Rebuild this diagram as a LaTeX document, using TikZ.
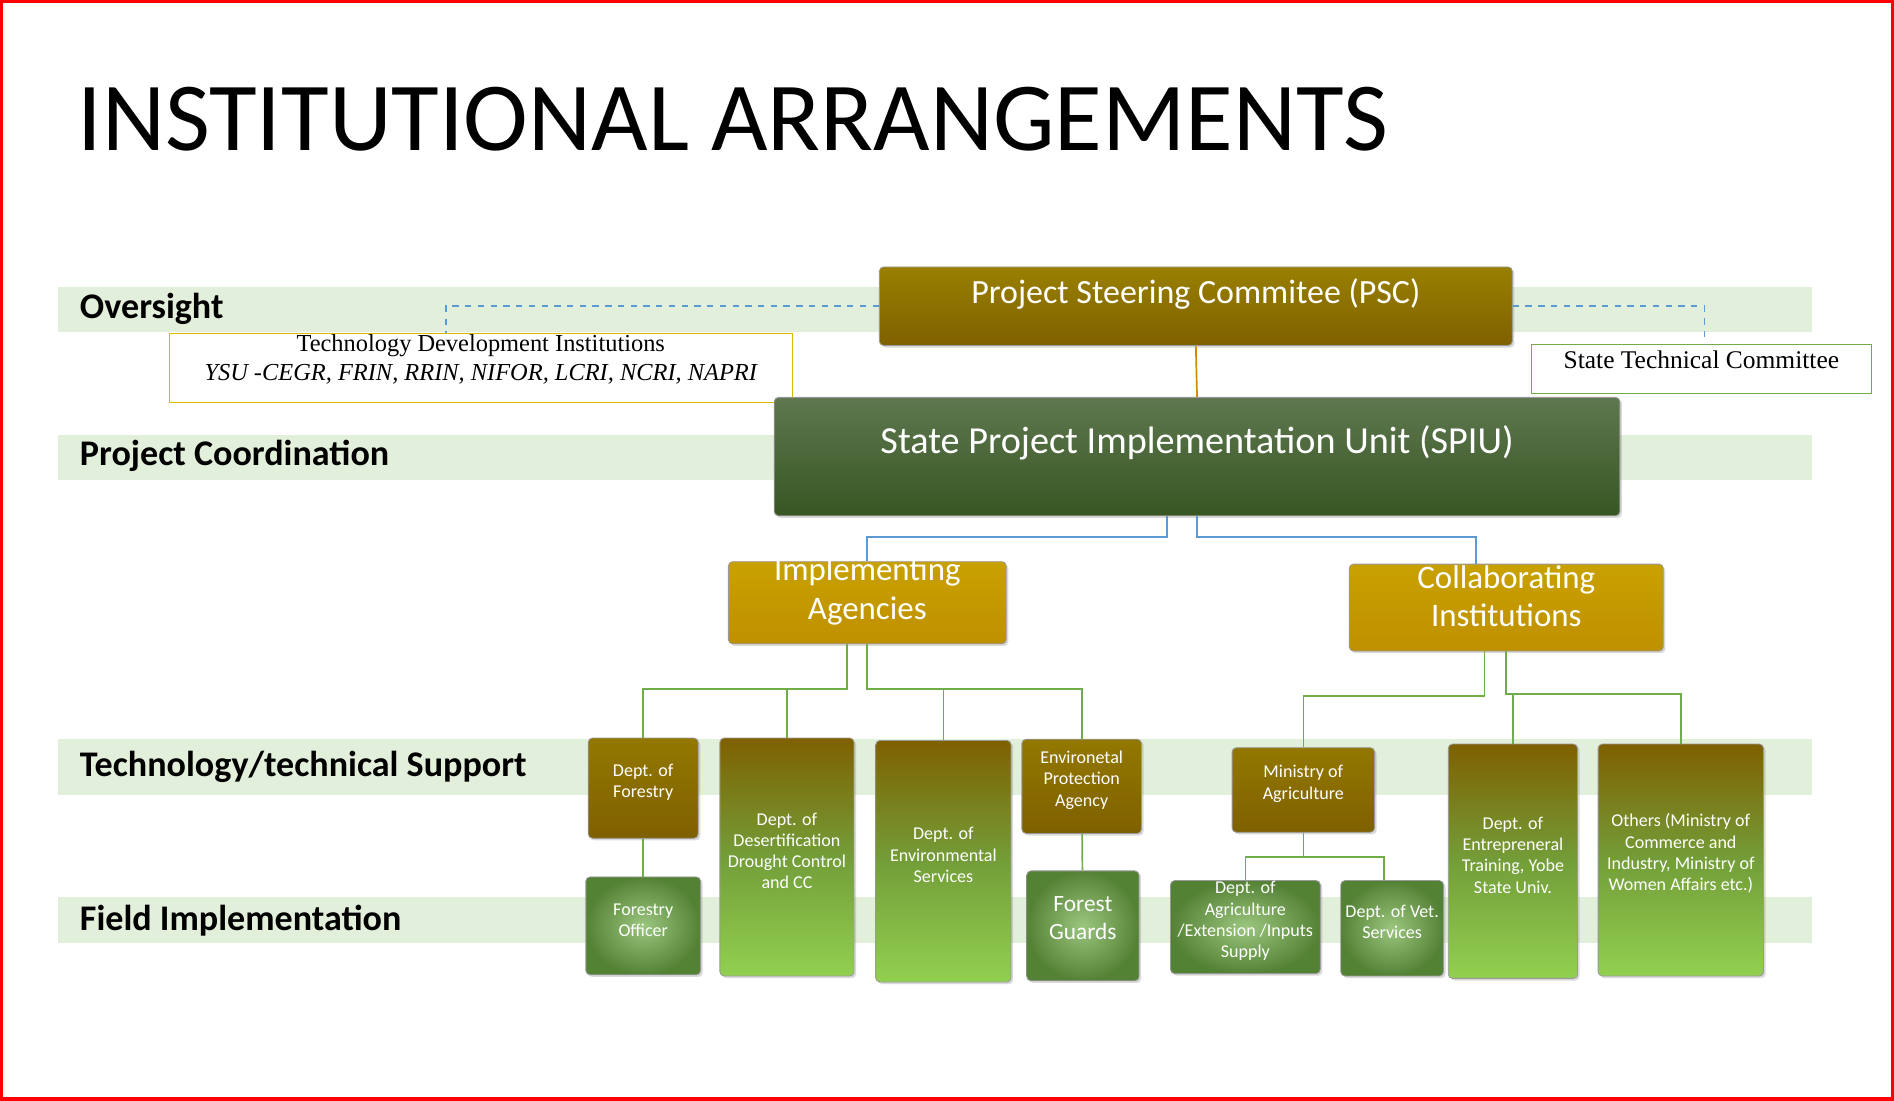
\documentclass[tikz,border=0pt]{standalone}
\usepackage{fontspec}
\setmainfont{Carlito}
\newfontfamily\tnr{Liberation Serif}
\usetikzlibrary{fit,shadows}
\definecolor{band}{HTML}{E2EFDA}
\definecolor{brownbox}{HTML}{7F6000}
\definecolor{goldbox}{HTML}{BF9000}
\definecolor{darkgreen}{HTML}{375623}
\definecolor{leaf}{HTML}{70AD47}
\definecolor{lightleaf}{HTML}{92D050}
\definecolor{moss}{HTML}{548235}
\definecolor{linkblue}{HTML}{5B9BD5}
\begin{document}
\begin{tikzpicture}[x=0.02cm,y=-0.02cm,
    band/.style={fill=band,draw=none},
    lvl/.style={anchor=west,font=\fontsize{17}{20}\selectfont\bfseries},
    box/.style={inner sep=0pt,rounded corners=2pt,draw=black!40,text=white,align=center,drop shadow={opacity=0.3,shadow xshift=1pt,shadow yshift=-1pt}},
    headbox/.style={box,top color=brownbox!80!yellow,bottom color=brownbox,font=\fontsize{16}{19}\selectfont},
    goldhead/.style={box,top color=goldbox!85!yellow,bottom color=goldbox,font=\fontsize{15.5}{18}\selectfont},
    brown/.style={box,top color=brownbox!85!yellow,bottom color=brownbox,font=\fontsize{8.5}{10}\selectfont},
    tall/.style={box,top color=brownbox,bottom color=lightleaf,middle color=leaf!80!brownbox,font=\fontsize{8.5}{10}\selectfont},
    moss/.style={box,inner color=leaf!70,outer color=moss,font=\fontsize{8.5}{10}\selectfont},
    note/.style={inner sep=0pt,fill=white,align=center,font=\tnr\fontsize{11.5}{14}\selectfont},
    dlink/.style={linkblue,dashed,thick},
    blink/.style={linkblue,thick},
    glink/.style={leaf,thick},
]
\useasboundingbox (0,0) rectangle (1568,911);
\draw[red,line width=3pt] (0,0) rectangle (1568,911);
\node[anchor=base west,font=\fontsize{46}{50}\selectfont] (title) at (58,125) {INSTITUTIONAL ARRANGEMENTS};
% bands
\fill[band] (48,238) rectangle (1500,275);
\fill[band] (48,360) rectangle (1500,397);
\fill[band] (48,612) rectangle (1500,658);
\fill[band] (48,743) rectangle (1500,781);
\node[lvl] (l1) at (60,256) {Oversight};
\node[lvl] (l2) at (60,377) {Project Coordination};
\node[lvl] (l3) at (60,635) {Technology/technical Support};
\node[lvl] (l4) at (60,762) {Field Implementation};
% top levels
\node[headbox,fit={(728,221)(1252,286)}] (psc) {Project Steering Commitee (PSC)};
\node[note,draw=goldbox!60!yellow,fit={(140,276)(656,333)}] (tdi) {Technology Development Institutions\\ \itshape YSU -CEGR, FRIN, RRIN, NIFOR, LCRI, NCRI, NAPRI};
\node[note,draw=leaf,fit={(1268,285)(1549,326)},font=\tnr\fontsize{12}{14}\selectfont] (stc) {State Technical Committee};
\node[box,fill=darkgreen,top color=darkgreen!80,bottom color=darkgreen,fit={(641,329)(1341,427)},font=\fontsize{18}{21}\selectfont] (spiu) {State Project Implementation Unit (SPIU)};
\node[goldhead,fit={(603,465)(833,533)}] (ia) {Implementing\\Agencies};
\node[goldhead,fit={(1117,467)(1377,539)}] (ci) {Collaborating\\Institutions};
% boxes
\node[brown,fit={(487,611)(578,694)}] (dfor) {Dept. of\\Forestry};
\node[moss,fit={(485,726)(580,807)}] (fo) {Forestry\\Officer};
\node[tall,fit={(596,611)(707,808)}] (ddes) {Dept. of\\Desertification\\Drought Control\\and CC};
\node[tall,fit={(725,613)(837,813)}] (denv) {Dept. of\\Environmental\\Services};
\node[brown,fit={(846,612)(945,690)}] (epa) {Environetal\\Protection\\Agency};
\node[moss,fit={(850,721)(943,812)},font=\fontsize{11}{13}\selectfont] (fg) {Forest\\Guards};
\node[brown,fit={(1020,619)(1138,689)}] (moa) {Ministry of\\Agriculture};
\node[moss,fit={(969,729)(1093,806)}] (dagr) {Dept. of\\Agriculture\\/Extension /Inputs\\Supply};
\node[moss,fit={(1110,729)(1195,808)}] (dvet) {Dept. of Vet.\\Services};
\node[tall,fit={(1199,616)(1306,810)}] (dent) {Dept. of\\Entrepreneral\\Training, Yobe\\State Univ.};
\node[tall,fit={(1323,616)(1460,808)}] (oth) {Others (Ministry of\\Commerce and\\Industry, Ministry of\\Women Affairs etc.)};
% connectors
\draw[dlink] (psc.west) -| (tdi.north -| 369,0);
\draw[dlink] (psc.east) -| (stc.north -| 1411,0);
\draw[goldbox!70!orange,thick] (psc.south) -- (spiu.north);
\draw[blink] ([xshift=-0.5cm]spiu.south) |- ++(0,17) -| (ia.north);
\draw[blink] (spiu.south) |- ++(0,17) -| (ci.north -| 1222,0);
\draw[glink] ([xshift=-0.34cm]ia.south) |- ++(0,37) -| (dfor.north);
\draw[glink] ([xshift=-0.34cm]ia.south) |- ++(0,37) -| (ddes.north);
\draw[glink] (ia.south) |- ++(0,37) -| (denv.north);
\draw[glink] (ia.south) |- ++(0,37) -| (epa.north);
\draw[glink] (dfor) -- (fo);
\draw[glink] (epa) -- (fg);
\draw[glink] ([xshift=-0.36cm]ci.south) |- ++(0,37) -| (moa.north);
\draw[glink] (ci.south) |- ++(0,35) -| (oth.north);
\draw[glink] (ci.south) |- ++(0,35) -| (dent.north);
\draw[glink] (moa.south) |- ++(0,20) -| (dagr.north);
\draw[glink] (moa.south) |- ++(0,20) -| (dvet.north -| 1146,0);
\end{tikzpicture}
\end{document}
